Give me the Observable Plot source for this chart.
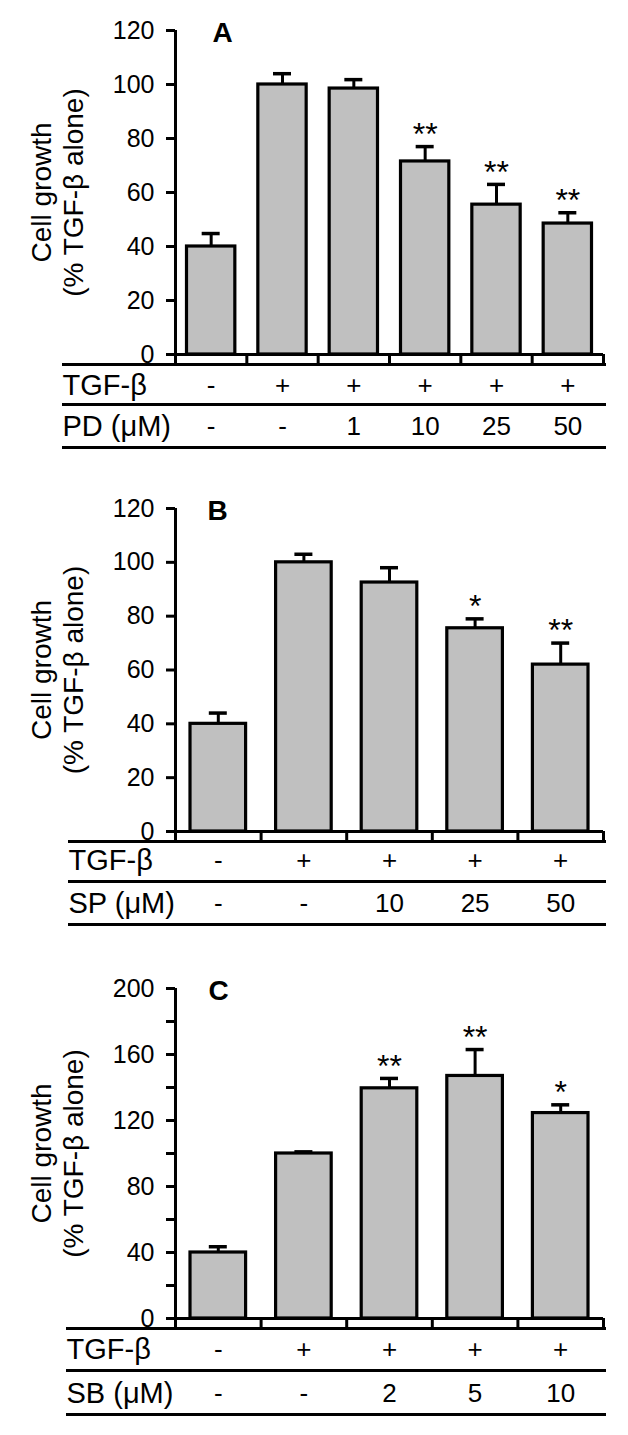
<!DOCTYPE html>
<html>
<head>
<meta charset="utf-8">
<script src="https://cdn.jsdelivr.net/npm/d3@7"></script>
<script src="https://cdn.jsdelivr.net/npm/@observablehq/plot@0.6"></script>
<style>
  html, body { margin: 0; padding: 0; background: #ffffff; }
  #chart { width: 628px; }
  #chart svg { display: block; }
</style>
</head>
<body>
<div id="chart"></div>
<script>
// ---------- shared text ----------
const yLabel = "Cell growth\n(% TGF-\u03b2 alone)";
const tgfRowLabel = "TGF-\u03b2";

// ---------- Panel A ----------
const letterA = "A";
const tgfA = ["-", "+", "+", "+", "+", "+"];
const drugA = ["-", "-", "1", "10", "25", "50"];
const drugLabelA = "PD (\u03bcM)";
const valuesA = [40, 100, 98.5, 71.5, 55.5, 48.5];
const errorsA = [4.8, 4, 3.3, 5.5, 7.5, 4];
const starsA = ["", "", "", "**", "**", "**"];
const ticksA = [0, 20, 40, 60, 80, 100, 120];
const labelTicksA = [0, 20, 40, 60, 80, 100, 120];

// ---------- Panel B ----------
const letterB = "B";
const tgfB = ["-", "+", "+", "+", "+"];
const drugB = ["-", "-", "10", "25", "50"];
const drugLabelB = "SP (\u03bcM)";
const valuesB = [40, 100, 92.5, 75.5, 62];
const errorsB = [4, 3, 5.5, 3.5, 8];
const starsB = ["", "", "", "*", "**"];
const ticksB = [0, 20, 40, 60, 80, 100, 120];
const labelTicksB = [0, 20, 40, 60, 80, 100, 120];

// ---------- Panel C ----------
const letterC = "C";
const tgfC = ["-", "+", "+", "+", "+"];
const drugC = ["-", "-", "2", "5", "10"];
const drugLabelC = "SB (\u03bcM)";
const valuesC = [40, 100, 139.5, 147, 124.5];
const errorsC = [3.5, 1, 6, 16, 5];
const starsC = ["", "", "**", "**", "*"];
const ticksC = [0, 20, 40, 60, 80, 100, 120, 140, 160, 180, 200];
const labelTicksC = [0, 40, 80, 120, 160, 200];

const FONT = "'Liberation Sans', Arial, Helvetica, sans-serif";

function panel(cfg) {
  const n = cfg.values.length;
  const rows = cfg.values.map((v, i) => ({
    i, value: v, top: v + cfg.errors[i], star: cfg.stars[i], tgf: cfg.tgf[i], drug: cfg.drug[i]
  }));
  const bounds = d3.range(n).map(i => i + 0.5);
  const ymax = d3.max(cfg.ticks);
  const frameW = 628 - 175 - 25;
  const bandPx = frameW / n;
  const capInset = (bandPx - 18) / 2;
  const labelsSet = new Set(cfg.labelTicks);
  const tableLines = cfg.lineOffsets.map(off =>
    Plot.ruleY([0], {dy: off, strokeWidth: 3, insetLeft: -(175 - cfg.labelX), insetRight: -3, stroke: "black"})
  );
  return Plot.plot({
    width: 628,
    height: cfg.height,
    marginLeft: 175,
    marginRight: 25,
    marginTop: cfg.marginTop,
    marginBottom: cfg.marginBottom,
    x: {domain: [-0.5, n - 0.5], axis: null},
    y: {domain: [0, ymax], axis: null},
    style: {fontFamily: FONT, background: "white", color: "black", overflow: "visible"},
    marks: [
      // bars
      Plot.rect(rows, {
        x1: d => d.i - 0.5, x2: d => d.i + 0.5, y1: 0, y2: "value",
        insetLeft: cfg.barInset, insetRight: cfg.barInset,
        fill: "#c0c0c0", stroke: "black", strokeWidth: 3.2
      }),
      // error stems and caps
      Plot.ruleX(rows, {x: "i", y1: "value", y2: "top", strokeWidth: 3, stroke: "black"}),
      Plot.ruleY(rows, {
        y: "top", x1: d => d.i - 0.5, x2: d => d.i + 0.5,
        insetLeft: capInset, insetRight: capInset, strokeWidth: 3.5, stroke: "black"
      }),
      // significance stars
      Plot.text(rows.filter(d => d.star), {
        x: "i", y: "top", text: "star", fontSize: 32,
        lineAnchor: "middle", dy: -12, fill: "black"
      }),
      // baseline
      Plot.ruleY([0], {strokeWidth: 3, stroke: "black"}),
      // y axis line (extends below baseline)
      Plot.ruleX([-0.5], {strokeWidth: 3, insetBottom: -10, stroke: "black"}),
      // category boundary ticks below baseline
      Plot.ruleX(bounds, {x: d => d, y1: 0, y2: 0, insetBottom: -10, strokeWidth: 3, stroke: "black"}),
      // y axis ticks + labels
      Plot.axisY(cfg.ticks, {
        tickSize: 9, tickPadding: 12, strokeWidth: 3, fontSize: 25, stroke: "black", fill: "black",
        tickFormat: d => labelsSet.has(d) ? String(d) : "", label: null
      }),
      // table lines
      ...tableLines,
      // table rows
      Plot.text(rows, {x: "i", text: "tgf", frameAnchor: "bottom", dy: cfg.textOffsets[0], fontSize: 26, lineAnchor: "middle", fill: "black"}),
      Plot.text(rows, {x: "i", text: "drug", frameAnchor: "bottom", dy: cfg.textOffsets[1], fontSize: 26, lineAnchor: "middle", fill: "black"}),
      Plot.text([tgfRowLabel], {frameAnchor: "bottom-left", textAnchor: "start", dx: -(175 - cfg.labelX), dy: cfg.textOffsets[0], fontSize: 29, lineAnchor: "middle", fill: "black"}),
      Plot.text([cfg.drugLabel], {frameAnchor: "bottom-left", textAnchor: "start", dx: -(175 - cfg.labelX), dy: cfg.textOffsets[1], fontSize: 29, lineAnchor: "middle", fill: "black"}),
      // y label
      Plot.text([yLabel], {frameAnchor: "left", rotate: -90, textAnchor: "middle", dx: -119, fontSize: 28, lineHeight: 1.15, lineAnchor: "middle", fill: "black"}),
      // panel letter
      Plot.text([cfg.letter], {frameAnchor: "top-left", textAnchor: "start", dx: cfg.letterDx, dy: 3, fontSize: 28, fontWeight: "bold", lineAnchor: "middle", fill: "black"})
    ]
  });
}

const chart = document.getElementById("chart");
chart.append(panel({
  letter: letterA, values: valuesA, errors: errorsA, stars: starsA, tgf: tgfA, drug: drugA,
  drugLabel: drugLabelA, ticks: ticksA, labelTicks: labelTicksA,
  height: 470, marginTop: 30, marginBottom: 116, barInset: 11.5, labelX: 62, letterDx: 37,
  lineOffsets: [10, 50, 93], textOffsets: [31, 72]
}));
chart.append(panel({
  letter: letterB, values: valuesB, errors: errorsB, stars: starsB, tgf: tgfB, drug: drugB,
  drugLabel: drugLabelB, ticks: ticksB, labelTicks: labelTicksB,
  height: 470, marginTop: 38, marginBottom: 109, barInset: 15, labelX: 68, letterDx: 32,
  lineOffsets: [10, 50, 93], textOffsets: [29, 72]
}));
chart.append(panel({
  letter: letterC, values: valuesC, errors: errorsC, stars: starsC, tgf: tgfC, drug: drugC,
  drugLabel: drugLabelC, ticks: ticksC, labelTicks: labelTicksC,
  height: 495, marginTop: 48, marginBottom: 117, barInset: 15, labelX: 66, letterDx: 33,
  lineOffsets: [10, 52, 96], textOffsets: [31, 75]
}));
</script>
</body>
</html>
